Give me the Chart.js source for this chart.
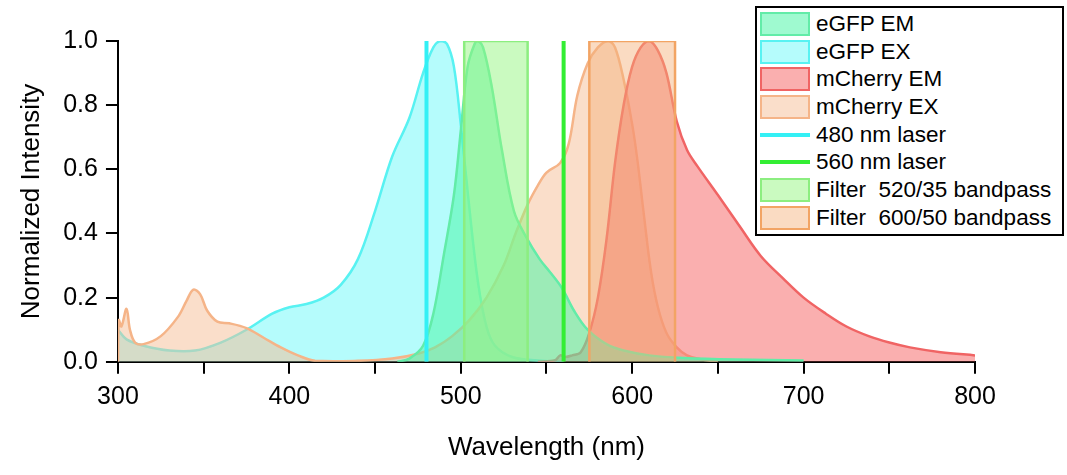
<!DOCTYPE html>
<html><head><meta charset="utf-8">
<script src="https://cdn.jsdelivr.net/npm/chart.js@4"></script>
<style>
body{margin:0;background:#fff;font-family:"Liberation Sans",Arial,sans-serif}
#wrap{position:relative;width:1067px;height:475px}
#legend{position:absolute;left:755px;top:6px;width:309px;height:230px;border:2px solid #000;background:#fff;box-sizing:border-box;padding:2px 0 0 3px}
.row{display:flex;align-items:center;height:27.7px;font-size:22.5px;color:#000;white-space:nowrap}
.sw{width:50px;height:24px;margin-right:6px;box-sizing:border-box;border:2px solid;flex:none}
.ln{width:50px;height:0;border-top:4px solid;margin-right:6px;flex:none}
</style></head><body>
<div id="wrap"><canvas id="c" width="1067" height="475"></canvas><div id="legend"></div></div>
<script>
const egfpExX=[300,305,315,330,345,360,375,390,400,410,420,430,440,450,460,470,478,484,488,492,496,500,505,510,515,520,530,545,560];
const egfpExY=[0.10,0.07,0.05,0.035,0.035,0.06,0.10,0.15,0.17,0.18,0.20,0.24,0.32,0.47,0.64,0.76,0.90,0.98,1.0,0.99,0.92,0.74,0.48,0.25,0.11,0.05,0.015,0.004,0];
const egfpEmX=[463,470,478,484,490,496,500,504,508,510,513,518,524,531,538,546,552,559,566,574,585,595,610,630,660,700];
const egfpEmY=[0,0.01,0.05,0.15,0.33,0.52,0.72,0.92,0.99,1.0,0.98,0.86,0.66,0.47,0.39,0.32,0.28,0.23,0.16,0.10,0.055,0.035,0.02,0.012,0.007,0.004];
const mchExX=[300,300.5,302,305,307,310,315,325,335,340,344,348,352,358,365,375,385,395,405,415,440,460,475,485,495,505,515,525,532,539,545,550,558,563,568,574,580,586,590,595,600,603,607,611,615,620,626,632,640,650];
const mchExY=[0,0.13,0.11,0.165,0.10,0.06,0.055,0.08,0.14,0.19,0.225,0.21,0.16,0.125,0.12,0.105,0.075,0.045,0.02,0.003,0.003,0.01,0.025,0.045,0.08,0.13,0.2,0.3,0.4,0.49,0.55,0.59,0.62,0.68,0.83,0.93,0.98,1.0,0.98,0.88,0.74,0.63,0.45,0.28,0.17,0.09,0.045,0.02,0.008,0];
const mchEmX=[545,555,558,561,565,570,575,580,585,590,595,600,605,610,615,620,626,632,638,650,663,675,688,700,713,725,738,750,762,780,800];
const mchEmY=[0,0.005,0.02,0.015,0.02,0.03,0.09,0.2,0.38,0.62,0.8,0.92,0.98,1.0,0.97,0.9,0.75,0.66,0.61,0.52,0.42,0.33,0.26,0.2,0.15,0.11,0.08,0.06,0.045,0.03,0.02];
const filter1X=[502,502,539,539], filter1Y=[0,1,1,0];
const filter2X=[575,575,625,625], filter2Y=[0,1,1,0];
const laser1X=[480,480], laser2X=[560,560], laserY=[0,1];
const xTicks=[300,400,500,600,700,800];
const yTicks=[0,0.2,0.4,0.6,0.8,1.0];
const legendLabels=["eGFP EM","eGFP EX","mCherry EM","mCherry EX","480 nm laser","560 nm laser","Filter&nbsp; 520/35 bandpass","Filter&nbsp; 600/50 bandpass"];

const pts=(xs,ys)=>xs.map((x,i)=>({x,y:ys[i]}));
const styles=[
 {fill:'rgba(80,245,170,0.55)',line:'#62eca8',type:'box'},
 {fill:'rgba(120,250,250,0.55)',line:'#58f2f2',type:'box'},
 {fill:'rgba(245,110,110,0.55)',line:'#f06464',type:'box'},
 {fill:'rgba(245,190,150,0.5)',line:'#f5b488',type:'box'},
 {fill:'#33f0f5',line:'#33f0f5',type:'line'},
 {fill:'#33ee33',line:'#33ee33',type:'line'},
 {fill:'rgba(150,245,130,0.5)',line:'#8cee80',type:'box'},
 {fill:'rgba(245,175,120,0.45)',line:'#f2a464',type:'box'}];
const data=[pts(egfpEmX,egfpEmY),pts(egfpExX,egfpExY),pts(mchEmX,mchEmY),pts(mchExX,mchExY),pts(laser1X,laserY),pts(laser2X,laserY),pts(filter1X,filter1Y),pts(filter2X,filter2Y)];
const orders=[3,6,4,5,1,1,2,2];
const datasets=data.map((d,i)=>({data:d,borderColor:styles[i].line,backgroundColor:styles[i].fill,
 fill:styles[i].type==='box'?'origin':false,borderWidth:styles[i].type==='line'?4:2.5,
 tension:(i<4)?0.35:0,pointRadius:0,order:orders[i]}));
const lg=document.getElementById('legend');
legendLabels.forEach((t,i)=>{const s=styles[i];lg.innerHTML+=`<div class="row">${s.type==='box'?`<div class="sw" style="background:${s.fill};border-color:${s.line}"></div>`:`<div class="ln" style="border-color:${s.line}"></div>`}<span>${t}</span></div>`;});

Chart.defaults.font.family='"Liberation Sans",Arial,sans-serif';
Chart.defaults.color='#000';
new Chart(document.getElementById('c'),{type:'line',data:{datasets},
options:{responsive:false,animation:false,layout:{padding:{top:41,right:92,left:12,bottom:8}},
plugins:{legend:{display:false},tooltip:{enabled:false}},
scales:{
x:{type:'linear',min:300,max:800,afterBuildTicks:a=>{a.ticks=[];for(let v=300;v<=800;v+=50)a.ticks.push({value:v});},
 ticks:{font:{size:25},padding:8,callback:v=>xTicks.includes(v)?v:''},
 grid:{drawOnChartArea:false,color:'#000',tickLength:12,lineWidth:2},border:{color:'#000',width:2},
 title:{display:true,text:'Wavelength (nm)',font:{size:26},padding:{top:12}}},
y:{min:0,max:1,afterBuildTicks:a=>{a.ticks=[];for(let v=0;v<=10;v++)a.ticks.push({value:v/10});},
 ticks:{font:{size:25},padding:8,callback:v=>{const r=Math.round(v*10)/10;return yTicks.some(t=>Math.abs(t-r)<1e-6)?r.toFixed(1):'';}},
 grid:{drawOnChartArea:false,color:'#000',tickLength:12,lineWidth:2},border:{color:'#000',width:2},
 title:{display:true,text:'Normalized Intensity',font:{size:26},padding:{bottom:8}}}}}});
</script></body></html>
